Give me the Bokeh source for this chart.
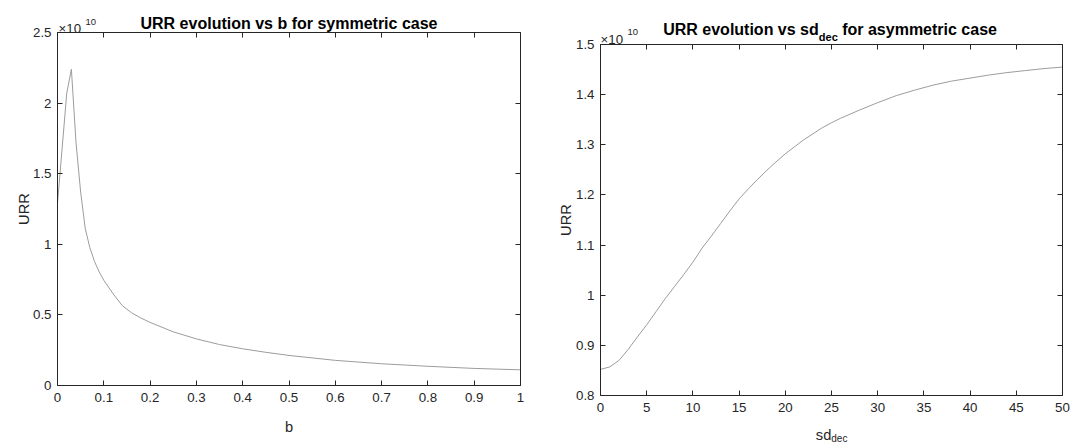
from bokeh.plotting import figure
from bokeh.models import Label, LinearAxis, FixedTicker, CustomJSTickFormatter, Range1d, GridBox, Row
from bokeh.embed import file_html
from bokeh.resources import INLINE

# ---- data (URR values in units of 1e10) ----
b_vals = [0, 0.01, 0.02, 0.03, 0.04, 0.05, 0.06, 0.07, 0.08, 0.09, 0.10, 0.12, 0.14,
          0.16, 0.18, 0.20, 0.25, 0.30, 0.35, 0.40, 0.45, 0.50, 0.60, 0.70, 0.80, 0.90, 1.00]
urr_b = [1.29, 1.68, 2.07, 2.24, 1.72, 1.37, 1.11, 0.975, 0.878, 0.805, 0.745, 0.65, 0.565,
         0.515, 0.478, 0.447, 0.38, 0.33, 0.29, 0.26, 0.235, 0.213, 0.178, 0.154, 0.136, 0.121, 0.111]

sd_vals = [0, 1, 2, 3, 4, 5, 6, 7, 8, 9, 10, 11, 12, 13, 14, 15, 16, 17, 18, 19, 20,
           21, 22, 23, 24, 25, 26, 27, 28, 30, 32, 34, 36, 38, 40, 42, 44, 46, 48, 50]
urr_sd = [0.852, 0.857, 0.870, 0.892, 0.917, 0.941, 0.967, 0.993, 1.017, 1.041, 1.066,
          1.094, 1.118, 1.143, 1.168, 1.192, 1.212, 1.231, 1.249, 1.266, 1.282,
          1.296, 1.310, 1.322, 1.334, 1.344, 1.353, 1.361, 1.369, 1.384, 1.398, 1.409,
          1.419, 1.427, 1.433, 1.439, 1.444, 1.448, 1.452, 1.455]

b_ticks = [0, 0.1, 0.2, 0.3, 0.4, 0.5, 0.6, 0.7, 0.8, 0.9, 1]
urr_b_ticks = [0, 0.5, 1, 1.5, 2, 2.5]
sd_ticks = [0, 5, 10, 15, 20, 25, 30, 35, 40, 45, 50]
urr_sd_ticks = [0.8, 0.9, 1.0, 1.1, 1.2, 1.3, 1.4, 1.5]

FONT = "Liberation Sans"
AX = "#262626"
LINE = "#9c9c9c"


def box_axes(p, xt, yt):
    fmt = CustomJSTickFormatter(code="return String(Math.round(tick*1000)/1000);")
    blank = CustomJSTickFormatter(code="return '';")
    bottom = p.below[0]
    left = p.left[0]
    top = LinearAxis()
    right = LinearAxis()
    p.add_layout(top, "above")
    p.add_layout(right, "right")
    for ax, ticks, lab in [(bottom, xt, True), (left, yt, True),
                           (top, xt, False), (right, yt, False)]:
        ax.ticker = FixedTicker(ticks=ticks, minor_ticks=[])
        ax.formatter = fmt if lab else blank
        ax.axis_line_color = AX
        ax.axis_line_width = 1
        ax.major_tick_line_color = AX
        ax.major_tick_in = 5
        ax.major_tick_out = 0
        ax.minor_tick_line_color = None
        ax.major_label_text_font = FONT
        ax.major_label_text_color = AX
        ax.major_label_text_font_size = "13.3px"
        ax.axis_label = None
    bottom.major_label_standoff = 7
    left.major_label_standoff = 6
    top.major_label_standoff = 0
    right.major_label_standoff = 0
    p.grid.visible = False
    p.outline_line_color = None


# ---- left plot ----
p1 = figure(width=560, height=444, output_backend="svg", toolbar_location=None,
            x_range=Range1d(0, 1), y_range=Range1d(0, 2.5),
            min_border_left=57, min_border_right=40, min_border_top=32, min_border_bottom=59)
p1.line(b_vals, urr_b, line_color=LINE, line_width=1)
box_axes(p1, b_ticks, urr_b_ticks)

# ---- right plot ----
p2 = figure(width=512, height=444, output_backend="svg", toolbar_location=None,
            x_range=Range1d(0, 50), y_range=Range1d(0.8, 1.5),
            min_border_left=40, min_border_right=10, min_border_top=44, min_border_bottom=49)
p2.line(sd_vals, urr_sd, line_color=LINE, line_width=1)
box_axes(p2, sd_ticks, urr_sd_ticks)

# ---- transparent text overlay (page pixel coordinates) ----
ov = figure(width=1072, height=444, output_backend="svg", toolbar_location=None,
            x_range=Range1d(0, 1072), y_range=Range1d(444, 0),
            x_axis_type=None, y_axis_type=None,
            min_border_left=0, min_border_right=0, min_border_top=0, min_border_bottom=0)
ov.grid.visible = False
ov.outline_line_color = None
ov.background_fill_alpha = 0
ov.border_fill_alpha = 0


def lab(text, x, y, size="14.67px", bold=False, align="left", angle=0, color=AX):
    ov.add_layout(Label(x=x, y=y, text=text, text_font=FONT, text_font_size=size,
                        text_color=color, text_font_style="bold" if bold else "normal",
                        text_align=align, text_baseline="alphabetic", angle=angle))


TC = "#000000"
# left plot texts
lab("URR evolution vs b for symmetric case", 288.5, 23.3, size="16px", bold=True, align="center", color=TC)
lab("b", 288.5, 426.5, align="center")
lab("URR", 23.3, 208.5, align="center", angle=1.5708)
lab("\u00d710", 58, 28.3, size="13.3px")
lab("10", 85, 21.7, size="9.5px")
# right plot texts
lab("URR evolution vs sd", 662.7, 29.3, size="16px", bold=True, color=TC)
lab("dec", 818.3, 36.3, size="11px", bold=True, color=TC)
lab("for asymmetric case", 841.7, 29.3, size="16px", bold=True, color=TC)
lab("sd", 815.3, 434.5, align="left")
lab("dec", 830.8, 438, size="10px")
lab("URR", 565.3, 219.5, align="center", angle=1.5708)
lab("\u00d710", 600, 39.3, size="13.3px")
lab("10", 627, 31.7, size="9.5px")

layout = GridBox(children=[(Row(children=[p1]), 0, 0), (Row(children=[p2]), 0, 1), (ov, 0, 0, 1, 2)])
open("out.html", "w").write(file_html(layout, INLINE))
